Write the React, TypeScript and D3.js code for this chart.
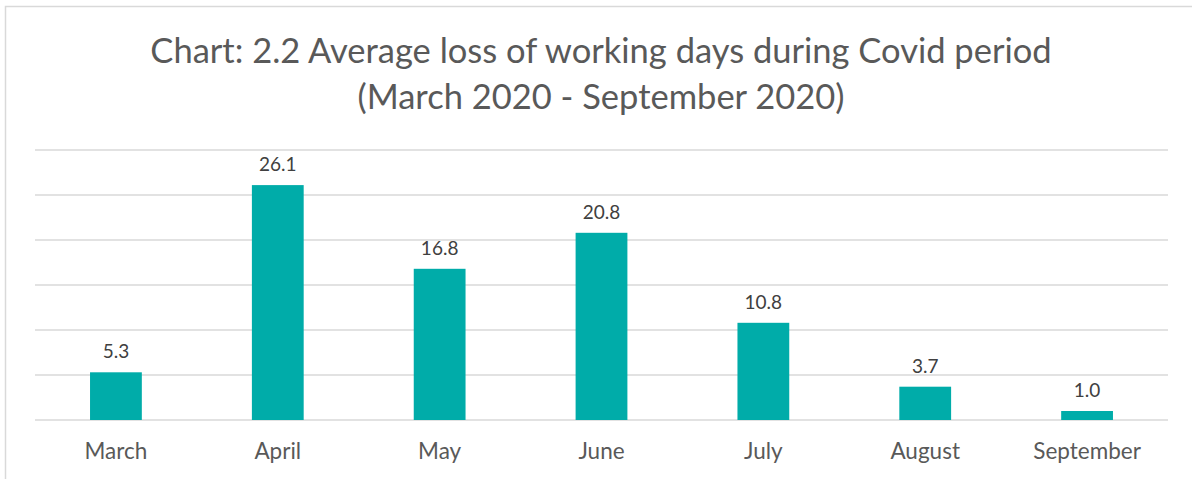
import React from "react";
import * as d3 from "d3";

const months = ["March", "April", "May", "June", "July", "August", "September"];
const values = [5.3, 26.1, 16.8, 20.8, 10.8, 3.7, 1.0];
const gridTicks = [0, 5, 10, 15, 20, 25, 30];
const titleLines = ["Chart: 2.2 Average loss of working days during Covid period", "(March 2020 - September 2020)"];

export default function App() {
  const W = 1192, H = 479;
  const left = 35, right = 1168, top = 150, bottom = 420;
  const x = d3.scaleBand<string>().domain(months).range([left, right]).paddingInner(0.68).paddingOuter(0.34);
  const y = d3.scaleLinear().domain([0, 30]).range([bottom, top]);
  const font = "Lato, 'Open Sans', sans-serif";
  return (
    <svg width={W} height={H} style={{ position: "absolute", left: 0, top: 0 }}>
      <rect x={0} y={0} width={W} height={H} fill="#fff" />
      <rect x={5.5} y={6.5} width={W + 10} height={H + 10} fill="#fff" stroke="#d9d9d9" strokeWidth={1.5} />
      {titleLines.map((t, i) => (
        <text key={i} x={601} y={63 + i * 46} textAnchor="middle" fontFamily={font} fontSize={34.5} fill="#595959">{t}</text>
      ))}
      {gridTicks.map((t) => (
        <line key={t} x1={left} x2={right} y1={y(t)} y2={y(t)} stroke="#d9d9d9" strokeWidth={1.5} />
      ))}
      {values.map((v, i) => {
        const m = months[i];
        const bx = x(m)!;
        return (
          <g key={m}>
            <rect x={bx} y={y(v)} width={x.bandwidth()} height={y(0) - y(v)} fill="#00aca9" />
            <text x={bx + x.bandwidth() / 2} y={y(v) - 14} textAnchor="middle" fontFamily={font} fontSize={19} fill="#404040">{v.toFixed(1)}</text>
            <text x={bx + x.bandwidth() / 2} y={459} textAnchor="middle" fontFamily={font} fontSize={22.5} fill="#595959">{m}</text>
          </g>
        );
      })}
    </svg>
  );
}
